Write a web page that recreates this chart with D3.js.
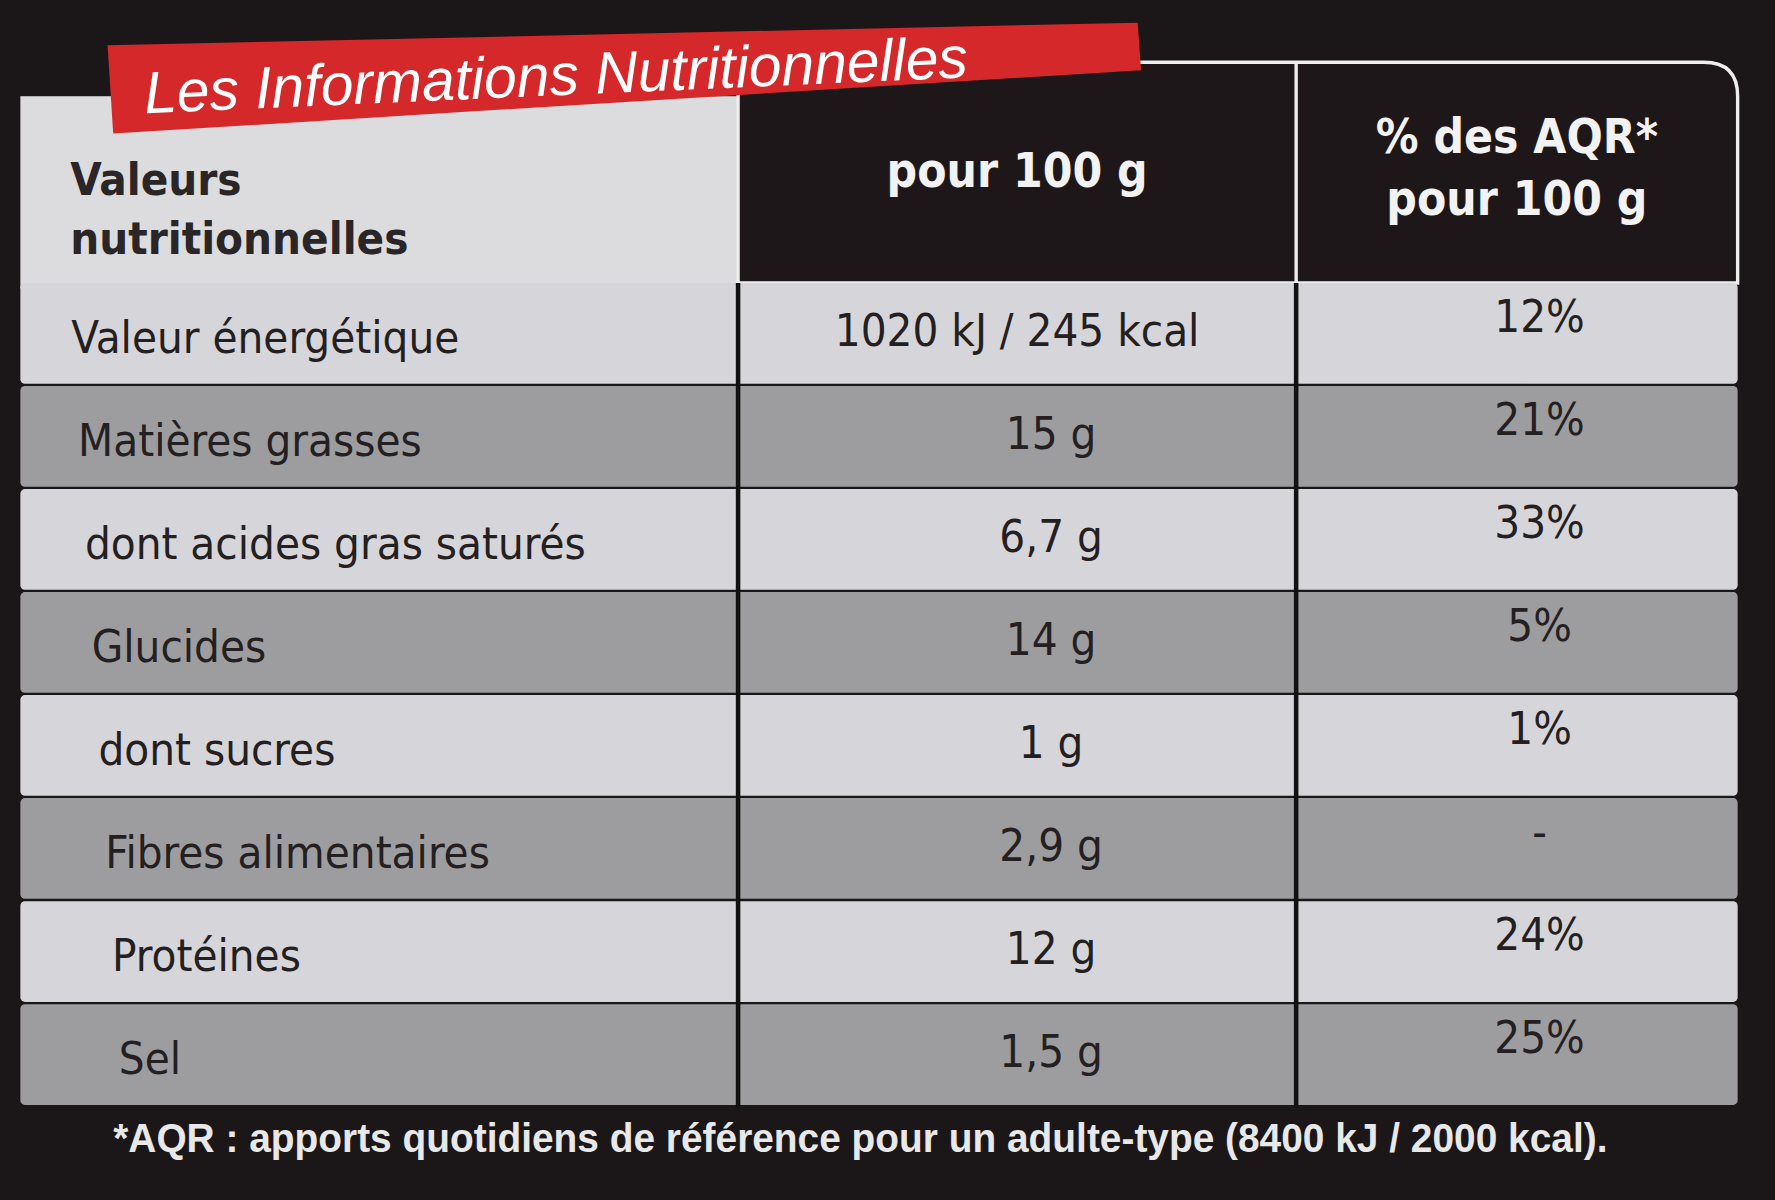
<!DOCTYPE html>
<html><head><meta charset="utf-8">
<script src="https://cdn.jsdelivr.net/npm/d3@7"></script>
<style>body{margin:0;background:#1b1618;overflow:hidden}</style>
</head><body>
<svg id="c" width="1775" height="1200" viewBox="0 0 1568 1060" preserveAspectRatio="none"></svg>
<script>
const title = "Les Informations Nutritionnelles";
const headers = ["Valeurs\nnutritionnelles", "pour 100 g", "% des AQR*\npour 100 g"];
const nutrients = ["Valeur énergétique","Matières grasses","dont acides gras saturés","Glucides","dont sucres","Fibres alimentaires","Protéines","Sel"];
const per100 = ["1020 kJ / 245 kcal","15 g","6,7 g","14 g","1 g","2,9 g","12 g","1,5 g"];
const aqr = ["12%","21%","33%","5%","1%","-","24%","25%"];
const footnote = "*AQR : apports quotidiens de référence pour un adulte-type (8400 kJ / 2000 kcal).";

const svg = d3.select("#c");
svg.append("rect").attr("width",1568).attr("height",1060).attr("fill","#1b1618");
const font = "'DejaVu Sans Condensed', 'DejaVu Sans', sans-serif";
const x0=18,x1=652,x2=1145,x3=1535;
const y = d3.scaleBand().domain(nutrients).range([250,978]);
svg.append("rect").attr("x",x0).attr("y",85).attr("width",x1-x0).attr("height",170).attr("fill","#dcdcdf");
svg.append("path").attr("d",`M${x1},55 H${x3-30} Q${x3},55 ${x3},85 V250 H${x1} Z`).attr("fill","#1e1719").attr("stroke","#eee").attr("stroke-width",3);
svg.append("line").attr("x1",x2).attr("x2",x2).attr("y1",55).attr("y2",250).attr("stroke","#eee").attr("stroke-width",3);
nutrients.forEach((n,i)=>{
  const fill = i%2===0 ? "#d6d6da" : "#9d9d9f";
  svg.append("rect").attr("x",x0).attr("y",y(n)).attr("width",x3-x0).attr("height",y.bandwidth()-2).attr("fill",fill).attr("rx",4);
  const cy = y(n)+y.bandwidth()/2+16;
  svg.append("text").attr("x",x0+45+i*6).attr("y",cy).text(n).attr("font-family",font).attr("font-size",40).attr("fill","#242022");
  svg.append("text").attr("x",(x1+x2)/2+ (i===0?0:30)).attr("y",cy-6).attr("text-anchor","middle").text(per100[i]).attr("font-family",font).attr("font-size",40).attr("fill","#242022");
  svg.append("text").attr("x",(x2+x3)/2+20).attr("y",cy-18).attr("text-anchor","middle").text(aqr[i]).attr("font-family",font).attr("font-size",40).attr("fill","#242022");
});
[x1,x2].forEach(x=>svg.append("line").attr("x1",x).attr("x2",x).attr("y1",250).attr("y2",978).attr("stroke","#111").attr("stroke-width",4));
svg.append("text").attr("font-family",font).attr("font-size",40).attr("font-weight","bold").attr("fill","#2a2628")
  .selectAll("tspan").data(headers[0].split("\n")).join("tspan").attr("x",62).attr("y",(d,i)=>172+i*52).text(d=>d);
svg.append("text").attr("x",(x1+x2)/2).attr("y",165).attr("text-anchor","middle").attr("font-family",font).attr("font-size",42).attr("font-weight","bold").attr("fill","#f2f2f2").text(headers[1]);
svg.append("text").attr("font-family",font).attr("font-size",42).attr("font-weight","bold").attr("fill","#f2f2f2").attr("text-anchor","middle")
  .selectAll("tspan").data(headers[2].split("\n")).join("tspan").attr("x",(x2+x3)/2).attr("y",(d,i)=>135+i*55).text(d=>d);
svg.append("path").attr("d","M95,40 L1005,20 L1008,62 L100,118 Z").attr("fill","#d5282a");
svg.append("text").attr("x",128).attr("y",100).attr("transform","rotate(-2.5,128,100)").attr("font-family","'Liberation Sans', sans-serif").attr("font-style","italic").attr("font-size",52).attr("fill","#fff").text(title);
svg.append("text").attr("x",100).attr("y",1018).attr("font-family","'Liberation Sans Narrow','Liberation Sans',sans-serif").attr("font-weight","bold").attr("font-size",36).attr("textLength",1320).attr("lengthAdjust","spacingAndGlyphs").attr("fill","#e8e8e8").text(footnote);
</script>
</body></html>
